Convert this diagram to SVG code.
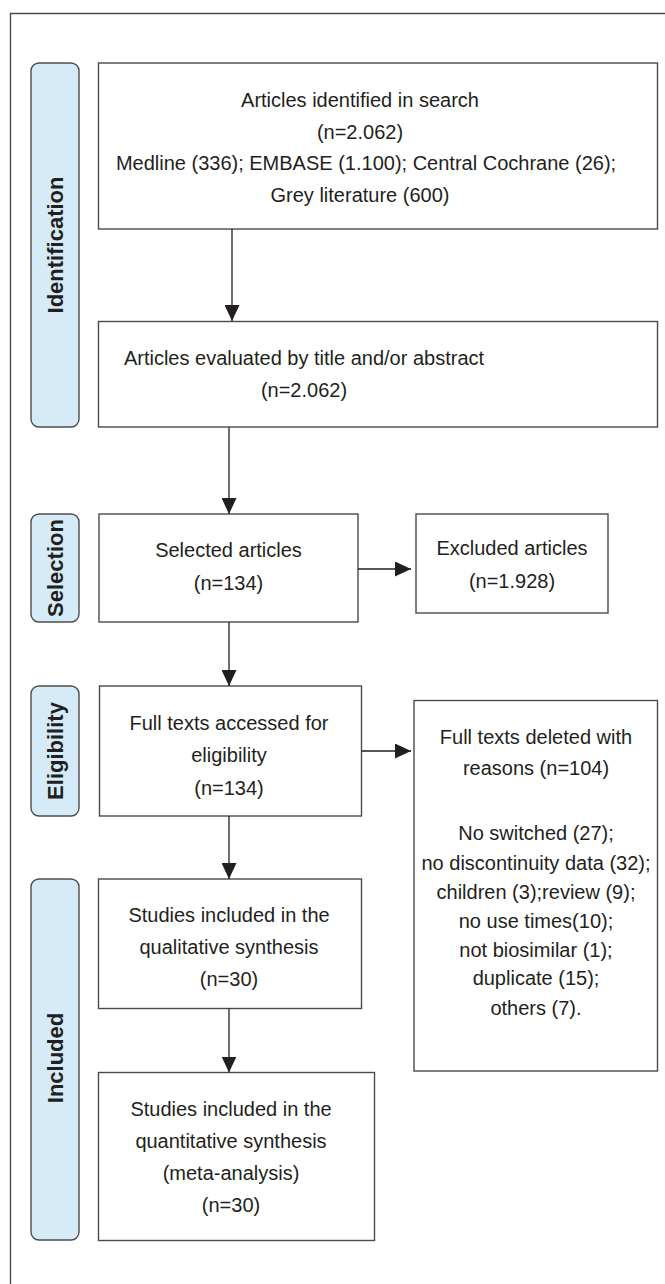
<svg xmlns="http://www.w3.org/2000/svg" width="665" height="1284" viewBox="0 0 665 1284">
<style>
  .box{fill:#ffffff;stroke:#4a4a4a;stroke-width:1.4}
  .pill{fill:#d6ebf8;stroke:#4d4d4d;stroke-width:1.4}
  .t{font-family:"Liberation Sans",Arial,sans-serif;font-size:20px;fill:#231f20;text-anchor:middle}
  .lab{font-family:"Liberation Sans",Arial,sans-serif;font-size:22px;font-weight:bold;fill:#231f20;text-anchor:middle}
  .con{stroke:#231f20;stroke-width:1.3;fill:none;marker-end:url(#ah)}
</style>
<defs>
  <marker id="ah" markerUnits="userSpaceOnUse" markerWidth="16" markerHeight="15" refX="16" refY="7.5" orient="auto">
    <path d="M0,0 L16,7.5 L0,15 Z" fill="#231f20"/>
  </marker>
</defs>
<rect width="665" height="1284" fill="#ffffff"/>
<path d="M10.5,1284 V13.5 H665" fill="none" stroke="#4a4a4a" stroke-width="1.4"/>

<g id="stage-identification">
  <rect class="pill" x="31" y="63" width="48" height="364" rx="8"/>
  <text class="lab" transform="translate(63,245) rotate(-90)">Identification</text>
</g>
<g id="stage-selection">
  <rect class="pill" x="31" y="514" width="48" height="108" rx="8"/>
  <text class="lab" transform="translate(63,568) rotate(-90)">Selection</text>
</g>
<g id="stage-eligibility">
  <rect class="pill" x="31" y="686" width="48" height="130" rx="8"/>
  <text class="lab" transform="translate(63,751) rotate(-90)">Eligibility</text>
</g>
<g id="stage-included">
  <rect class="pill" x="31" y="879" width="48" height="361" rx="8"/>
  <text class="lab" transform="translate(63,1058) rotate(-90)">Included</text>
</g>

<g id="n-identified">
  <rect class="box" x="98.5" y="63" width="559" height="166"/>
  <text class="t" x="360" y="107">Articles identified in search</text>
  <text class="t" x="360" y="139">(n=2.062)</text>
  <text class="t" x="366" y="170">Medline (336); EMBASE (1.100); Central Cochrane (26);</text>
  <text class="t" x="360" y="202">Grey literature (600)</text>
</g>
<g id="n-evaluated">
  <rect class="box" x="98.5" y="321.5" width="559" height="105.5"/>
  <text class="t" x="304" y="365">Articles evaluated by title and/or abstract</text>
  <text class="t" x="304" y="397">(n=2.062)</text>
</g>
<g id="n-selected">
  <rect class="box" x="99" y="514" width="259" height="108"/>
  <text class="t" x="228.5" y="557">Selected articles</text>
  <text class="t" x="228.5" y="590">(n=134)</text>
</g>
<g id="n-excluded">
  <rect class="box" x="416" y="514" width="192" height="99"/>
  <text class="t" x="512" y="555">Excluded articles</text>
  <text class="t" x="512" y="588">(n=1.928)</text>
</g>
<g id="n-fulltext">
  <rect class="box" x="99.5" y="686" width="262" height="130"/>
  <text class="t" x="229" y="730">Full texts accessed for</text>
  <text class="t" x="229" y="762">eligibility</text>
  <text class="t" x="229" y="795">(n=134)</text>
</g>
<g id="n-deleted">
  <rect class="box" x="414" y="700.5" width="243.5" height="370.5"/>
  <text class="t" x="536" y="744">Full texts deleted with</text>
  <text class="t" x="536" y="775">reasons (n=104)</text>
  <text class="t" x="536" y="840">No switched (27);</text>
  <text class="t" x="536" y="870">no discontinuity data (32);</text>
  <text class="t" x="536" y="899">children (3);review (9);</text>
  <text class="t" x="536" y="928">no use times(10);</text>
  <text class="t" x="536" y="957">not biosimilar (1);</text>
  <text class="t" x="536" y="985">duplicate (15);</text>
  <text class="t" x="536" y="1015">others (7).</text>
</g>
<g id="n-qualitative">
  <rect class="box" x="98.5" y="879" width="263" height="129.5"/>
  <text class="t" x="229" y="922">Studies included in the</text>
  <text class="t" x="229" y="954">qualitative synthesis</text>
  <text class="t" x="229" y="986">(n=30)</text>
</g>
<g id="n-quantitative">
  <rect class="box" x="98.5" y="1072.5" width="276" height="168"/>
  <text class="t" x="231" y="1116">Studies included in the</text>
  <text class="t" x="231" y="1148">quantitative synthesis</text>
  <text class="t" x="231" y="1180">(meta-analysis)</text>
  <text class="t" x="231" y="1212">(n=30)</text>
</g>

<g id="connectors">
  <line class="con" x1="232" y1="229" x2="232" y2="321"/>
  <line class="con" x1="229" y1="427" x2="229" y2="514"/>
  <line class="con" x1="229" y1="622" x2="229" y2="686"/>
  <line class="con" x1="229" y1="816" x2="229" y2="879"/>
  <line class="con" x1="229" y1="1008.5" x2="229" y2="1072.5"/>
  <line class="con" x1="358" y1="569" x2="411" y2="569"/>
  <line class="con" x1="361.5" y1="751" x2="411" y2="751"/>
</g>
</svg>
